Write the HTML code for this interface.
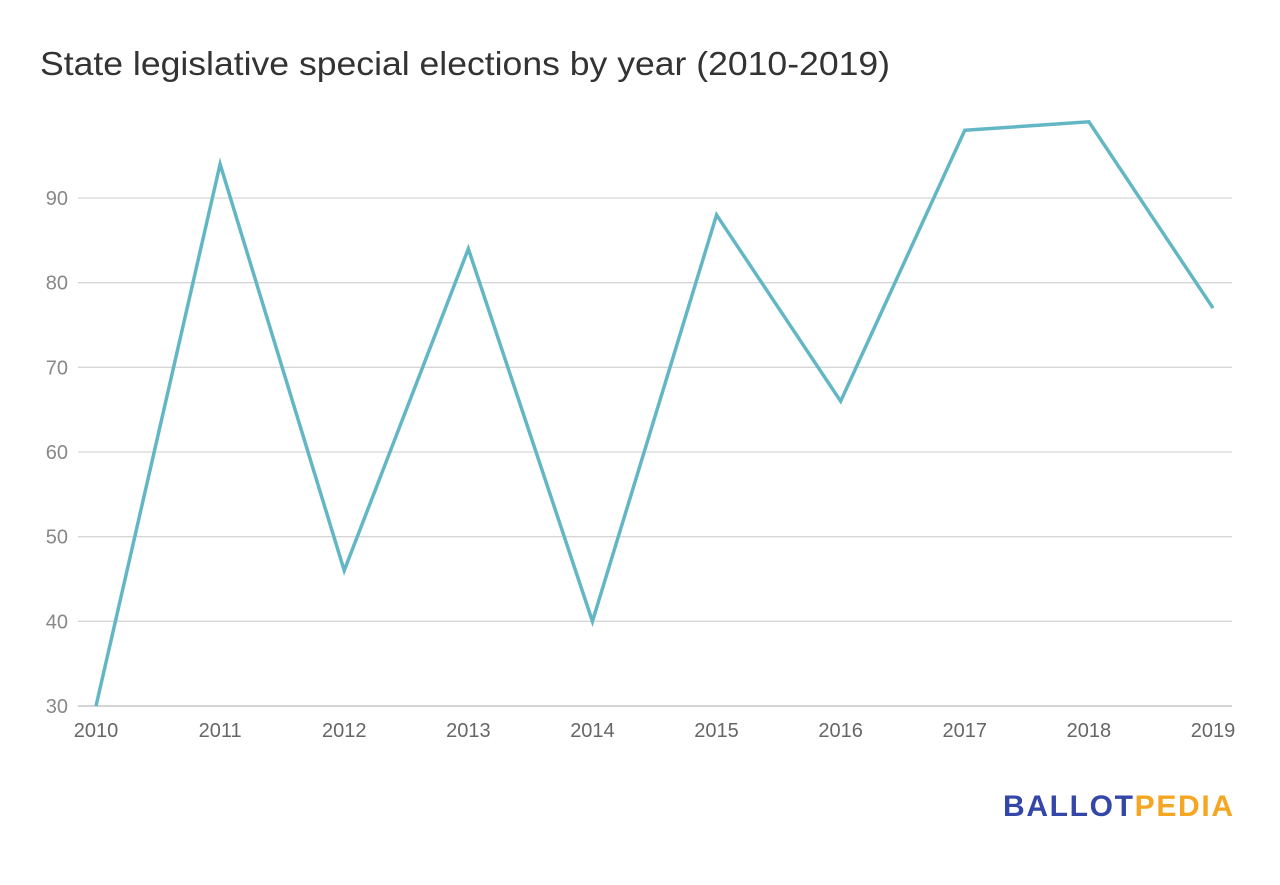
<!DOCTYPE html>
<html><head><meta charset="utf-8"><style>
body{margin:0;background:#fff;width:1280px;height:880px;overflow:hidden;font-family:"Liberation Sans",sans-serif}
</style></head><body>
<svg width="1280" height="880" xmlns="http://www.w3.org/2000/svg">
<text x="40" y="75" font-size="33" textLength="850" lengthAdjust="spacingAndGlyphs" fill="#333" font-family="Liberation Sans, sans-serif">State legislative special elections by year (2010-2019)</text>
<g id="grid"></g><g id="yt"></g><g id="xt"></g><g id="ln"></g>
<text x="1003" y="816" font-size="30" font-weight="bold" textLength="230" lengthAdjust="spacing" font-family="Liberation Sans, sans-serif"><tspan fill="#3446a8">BALLOT</tspan><tspan fill="#f5a623">PEDIA</tspan></text>
</svg>
<script>
const years=["2010","2011","2012","2013","2014","2015","2016","2017","2018","2019"];
const values=[30,94,46,84,40,88,66,98,99,77];
const yTicks=[30,40,50,60,70,80,90];
const NS="http://www.w3.org/2000/svg";
const X=i=>96+i*(1213-96)/(years.length-1);
const Y=v=>706-(v-30)*(706-198)/60;
function mk(t,a,p){const e=document.createElementNS(NS,t);for(const k in a)e.setAttribute(k,a[k]);document.getElementById(p).appendChild(e);return e;}
yTicks.forEach(v=>{
const l=mk('line',{x1:78,x2:1232,y1:Y(v),y2:Y(v),stroke:v===30?'#bbb':'#d6d6d6','stroke-width':1.3},'grid');


const t=mk('text',{x:68,y:Y(v)+7,'text-anchor':'end','font-size':20,fill:'#888'},'yt');t.textContent=v;


});
years.forEach((y,i)=>{
const t=mk('text',{x:X(i),y:737,'text-anchor':'middle','font-size':20,fill:'#666'},'xt');t.textContent=y;


});
const p=mk('polyline',{points:values.map((v,i)=>X(i)+','+Y(v)).join(' '),fill:'none',stroke:'#63b7c4','stroke-width':3.5,'stroke-linejoin':'miter'},'ln');


</script>
</body></html>
